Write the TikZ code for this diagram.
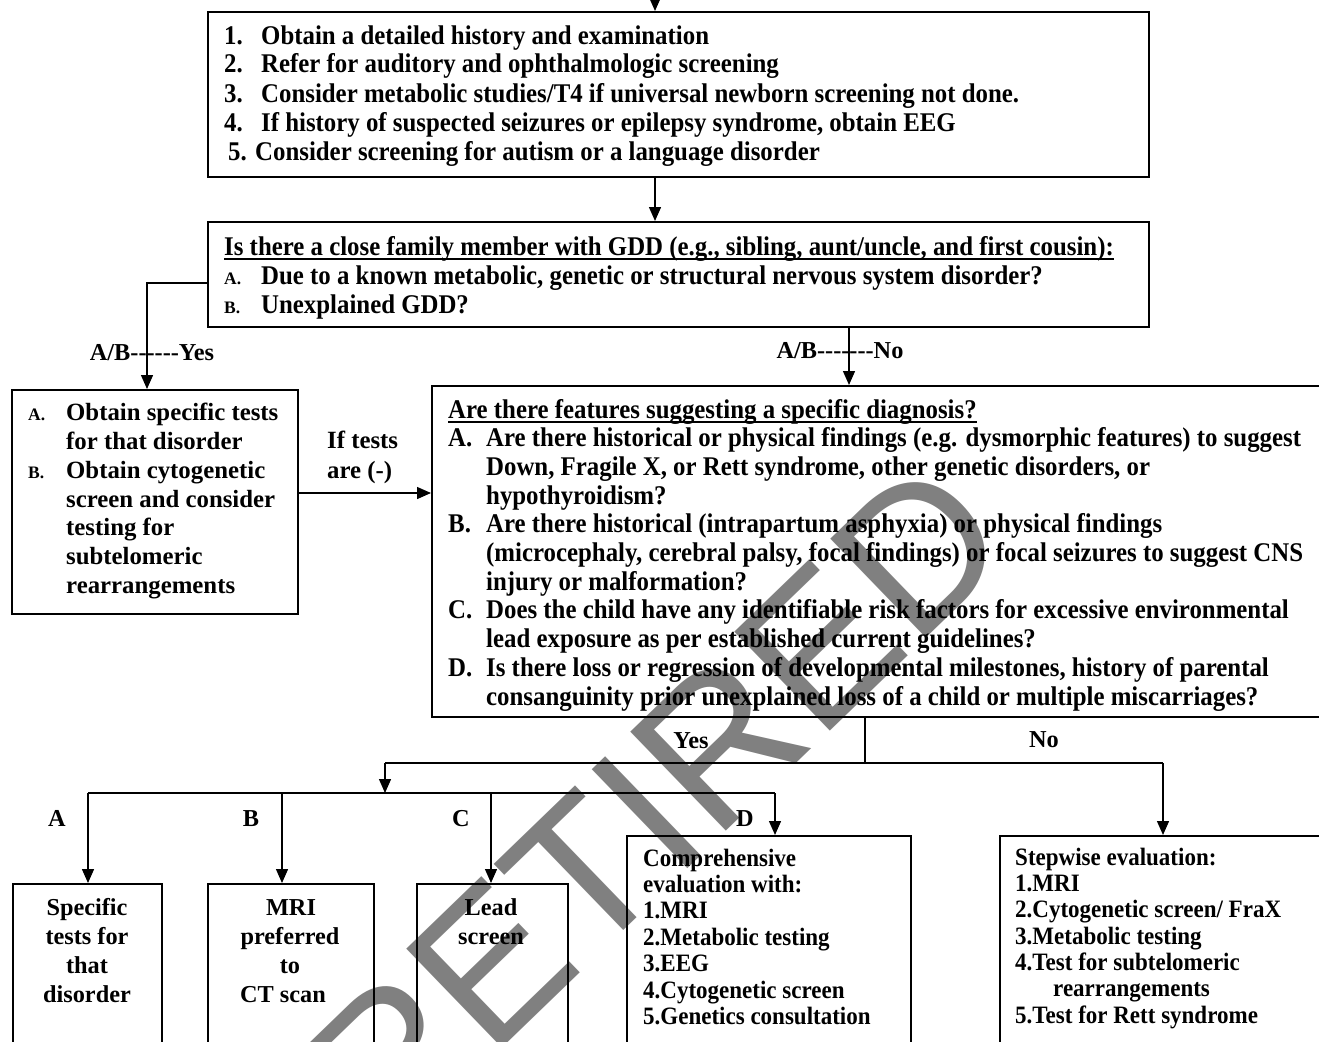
\documentclass[tikz,border=0pt]{standalone}
\usepackage{fontspec}
\setmainfont{Liberation Serif}
\newfontfamily\wmfont{Liberation Sans}
\newfontfamily\cond[FakeStretch=0.92]{Liberation Serif}
\usetikzlibrary{arrows.meta,calc}
\definecolor{wmgray}{gray}{0.5}
\newcommand\fA{\cond\bfseries\fontsize{27}{29}\selectfont}
\newcommand\fB{\bfseries\fontsize{24.8}{29}\selectfont}
\newcommand\fBB{\bfseries\fontsize{24.3}{29}\selectfont}
\newcommand\fC{\cond\bfseries\fontsize{25}{26}\selectfont}
\newcommand\fS{\bfseries\fontsize{17.5}{20}\selectfont}
\newcommand\hy{-\kern0pt}
\tikzset{
  box/.style={draw, line width=1.6pt, inner sep=0pt, anchor=north west},
  ln/.style={line width=1.4pt},
  arr/.style={line width=1.4pt, -{Triangle[length=14pt,width=12pt]}},
  tA/.style={anchor=base west, inner sep=0pt, font=\fA},
  tB/.style={anchor=base west, inner sep=0pt, font=\fB},
  tBc/.style={anchor=base, inner sep=0pt, font=\fBB},
  tC/.style={anchor=base west, inner sep=0pt, font=\fC},
  tS/.style={anchor=base west, inner sep=0pt, font=\fS},
}
\begin{document}
\begin{tikzpicture}[x=1pt,y=-1pt]
\useasboundingbox (0,0) rectangle (1319,1041);
\clip (0,0) rectangle (1319,1041);
% watermark
\node[rotate=44, inner sep=0pt, text=wmgray, font=\wmfont\fontsize{200}{200}\selectfont] (wm) at (655,805) {RETIRED};

% boxes (right and bottom edges of some lie outside the picture)
\node[box, minimum width=941pt, minimum height=165pt] (b1) at (207,11) {};
\node[box, minimum width=941pt, minimum height=105pt] (b2) at (207,221) {};
\node[box, minimum width=286pt, minimum height=224pt] (b3) at (11,389) {};
\node[box, minimum width=900pt, minimum height=331pt] (b4) at (431,385) {};
\node[box, minimum width=149pt, minimum height=200pt] (bA) at (12,883) {};
\node[box, minimum width=166pt, minimum height=200pt] (bB) at (207,883) {};
\node[box, minimum width=151pt, minimum height=200pt] (bC) at (416,883) {};
\node[box, minimum width=284pt, minimum height=250pt] (bD) at (626,835) {};
\node[box, minimum width=340pt, minimum height=250pt] (bE) at (999,835) {};

% box 1 text
\node[tA] (n1) at (224,45) {1.};  \node[tA] (l1) at (261,45) {Obtain a detailed history and examination};
\node[tA] (n2) at (224,73) {2.};  \node[tA] (l2) at (261,73) {Refer for auditory and ophthalmologic screening};
\node[tA] (n3) at (224,102) {3.}; \node[tA] (l3) at (261,102) {Consider metabolic studies/T4 if universal newborn screening not done.};
\node[tA] (n4) at (224,131) {4.}; \node[tA] (l4) at (261,131) {If history of suspected seizures or epilepsy syndrome, obtain EEG};
\node[tA] (n5) at (228,160) {5.}; \node[tA] (l5) at (255,160) {Consider screening for autism or a language disorder};

% box 2 text
\node[tA] (h2) at (224,255) {Is there a close family member with GDD (e.g., sibling, aunt/uncle, and first cousin):};
\draw[line width=1.5pt] ([yshift=-4pt]h2.base west) -- ([yshift=-4pt]h2.base east);
\node[tS] (m2a) at (224,284) {A.}; \node[tA] (k2a) at (261,284) {Due to a known metabolic, genetic or structural nervous system disorder?};
\node[tS] (m2b) at (224,313) {B.}; \node[tA] (k2b) at (261,313) {Unexplained GDD?};

% box 3 text
\node[tS] (m3a) at (28,420) {A.};
\node[tB] (k3a) at (66,420) {Obtain specific tests};
\node[tB] (k3b) at (66,449) {for that disorder};
\node[tS] (m3b) at (28,478) {B.};
\node[tB] (k3c) at (66,478) {Obtain cytogenetic};
\node[tB] (k3d) at (66,507) {screen and consider};
\node[tB] (k3e) at (66,535) {testing for};
\node[tB] (k3f) at (66,564) {subtelomeric};
\node[tB] (k3g) at (66,593) {rearrangements};

% box 4 text
\node[tA] (h4) at (448,418) {Are there features suggesting a specific diagnosis?};
\draw[line width=1.5pt] ([yshift=-4pt]h4.base west) -- ([yshift=-4pt]h4.base east);
\node[tA] (m4a) at (448,446) {A.}; \node[tA] (k4a) at (486,446) {Are there historical or physical findings (e.g. dysmorphic features) to suggest};
\node[tA] (k4b) at (486,475) {Down, Fragile X, or Rett syndrome, other genetic disorders, or};
\node[tA] (k4c) at (486,504) {hypothyroidism?};
\node[tA] (m4b) at (448,532) {B.}; \node[tA] (k4d) at (486,532) {Are there historical (intrapartum asphyxia) or physical findings};
\node[tA] (k4e) at (486,561) {(microcephaly, cerebral palsy, focal findings) or focal seizures to suggest CNS};
\node[tA] (k4f) at (486,590) {injury or malformation?};
\node[tA] (m4c) at (448,618) {C.}; \node[tA] (k4g) at (486,618) {Does the child have any identifiable risk factors for excessive environmental};
\node[tA] (k4h) at (486,647) {lead exposure as per established current guidelines?};
\node[tA] (m4d) at (448,676) {D.}; \node[tA] (k4i) at (486,676) {Is there loss or regression of developmental milestones, history of parental};
\node[tA] (k4j) at (486,705) {consanguinity prior unexplained loss of a child or multiple miscarriages?};

% bottom boxes text
\node[tBc] (ka1) at (87,915) {Specific};
\node[tBc] (ka2) at (87,944) {tests for};
\node[tBc] (ka3) at (87,973) {that};
\node[tBc] (ka4) at (87,1002) {disorder};
\node[tBc] (kb1) at (291,915) {MRI};
\node[tBc] (kb2) at (290,944) {preferred};
\node[tBc] (kb3) at (290,973) {to};
\node[tBc] (kb4) at (283,1002) {CT scan};
\node[tBc] (kc1) at (491,915) {Lead};
\node[tBc] (kc2) at (491,944) {screen};

\node[tC] (kd1) at (643,866) {Comprehensive};
\node[tC] (kd2) at (643,892) {evaluation with:};
\node[tC] (kd3) at (643,918) {1.MRI};
\node[tC] (kd4) at (643,945) {2.Metabolic testing};
\node[tC] (kd5) at (643,971) {3.EEG};
\node[tC] (kd6) at (643,998) {4.Cytogenetic screen};
\node[tC] (kd7) at (643,1024) {5.Genetics consultation};

\node[tC] (ke1) at (1015,865) {Stepwise evaluation:};
\node[tC] (ke2) at (1015,891) {1.MRI};
\node[tC] (ke3) at (1015,917) {2.Cytogenetic screen/ FraX};
\node[tC] (ke4) at (1015,944) {3.Metabolic testing};
\node[tC] (ke5) at (1015,970) {4.Test for subtelomeric};
\node[tC] (ke6) at (1053,996) {rearrangements};
\node[tC] (ke7) at (1015,1023) {5.Test for Rett syndrome};

% labels
\node[tBc] (lyes1) at (152,360) {A/B\hy\hy\hy\hy\hy\hy Yes};
\node[tBc] (lno1) at (840,358) {A/B\hy\hy\hy\hy\hy\hy\hy No};
\node[tB] (lif1) at (327,448) {If tests};
\node[tB] (lif2) at (327,478) {are (-)};
\node[tBc] (lyes2) at (691,748) {Yes};
\node[tBc] (lno2) at (1044,747) {No};
\node[tBc] (lA) at (57,826) {A};
\node[tBc] (lB) at (251,826) {B};
\node[tBc] (lC) at (461,826) {C};
\node[tBc] (lD) at (745,826) {D};

% connectors
\coordinate (tx) at (655,0);
\coordinate (yb) at (147,283);
\coordinate (nb) at (849,0);
\coordinate (tb) at (0,493);
\coordinate (sp) at (865,763);
\coordinate (yl) at (385,763);
\coordinate (nr) at (1163,763);
\coordinate (hub) at (385,793);
\coordinate (la) at (88,793);
\coordinate (lb) at (282,793);
\coordinate (lc) at (491,793);
\coordinate (ld) at (775,793);

\draw[arr] (tx) -- (b1.north -| tx);
\draw[arr] (b1.south -| tx) -- (b2.north -| tx);
\draw[arr] (b2.west |- yb) -- (yb) -- (b3.north -| yb);
\draw[arr] (b2.south -| nb) -- (b4.north -| nb);
\draw[arr] (b3.east |- tb) -- (b4.west |- tb);
\draw[ln] (b4.south -| sp) -- (sp);
\draw[ln] (yl) -- (nr);
\draw[arr] (nr) -- (bE.north -| nr);
\draw[arr] (yl) -- (hub);
\draw[ln] (la) -- (ld);
\draw[arr] (la) -- (bA.north -| la);
\draw[arr] (lb) -- (bB.north -| lb);
\draw[arr] (lc) -- (bC.north -| lc);
\draw[arr] (ld) -- (bD.north -| ld);
\end{tikzpicture}
\end{document}
